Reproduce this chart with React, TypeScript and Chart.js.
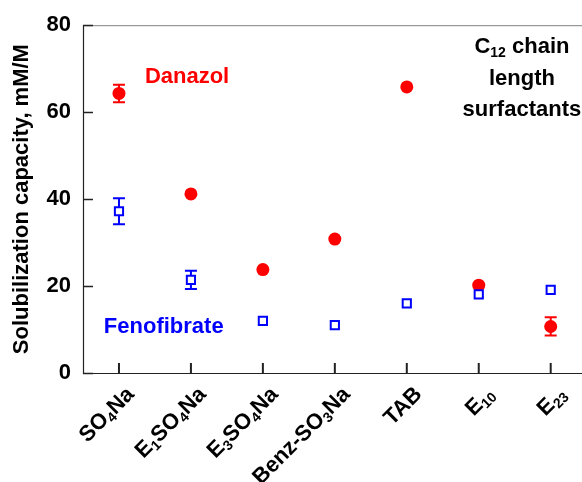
import React, { useEffect, useRef } from "react";
import { Chart, registerables } from "chart.js";
Chart.register(...registerables);

// Category labels: "_" toggles between normal and subscript segments
const categories = ["SO_4_Na", "E_1_SO_4_Na", "E_3_SO_4_Na", "Benz-SO_3_Na", "TAB", "E_10", "E_23"];
const danazol = [64.3, 41.2, 23.8, 30.8, 65.8, 20.2, 10.7];
const danazolErr = [2.0, 0, 0, 0, 0, 0, 2.1];
const fenofibrate = [37.2, 21.4, 12.0, 11.0, 16.0, 18.1, 19.1];
const fenofibrateErr = [3.0, 2.1, 0, 0, 0, 0, 0];
const yTicks = [0, 20, 40, 60, 80];
const yTitle = "Solubilization capacity, mM/M";
// annotation texts with their data-space anchors
const danazolLabel = { text: "Danazol", x: 0.36, y: 68.2 };
const fenoLabel = { text: "Fenofibrate", x: -0.21, y: 10.7 };
const noteLines = ["C_12_ chain", "length", "surfactants"];
const noteX = 5.6;
const noteY = [75, 67.7, 60.5];

const FONT = "'Liberation Sans', Arial, sans-serif";

function drawRich(ctx: CanvasRenderingContext2D, text: string, x: number, y: number, align: string, size: number, subSize: number, subShift: number) {
  const parts = text.split("_");
  const widths = parts.map((p, i) => {
    ctx.font = `bold ${i % 2 ? subSize : size}px ${FONT}`;
    return ctx.measureText(p).width;
  });
  const total = widths.reduce((a, b) => a + b, 0);
  let cx = align === "right" ? x - total : align === "center" ? x - total / 2 : x;
  ctx.textAlign = "left";
  ctx.textBaseline = "middle";
  parts.forEach((p, i) => {
    ctx.font = `bold ${i % 2 ? subSize : size}px ${FONT}`;
    ctx.fillText(p, cx, y + (i % 2 ? subShift : 0));
    cx += widths[i];
  });
}

const decor = {
  id: "decor",
  beforeDatasetsDraw(chart: any) {
    const ctx = chart.ctx;
    const xs = chart.scales.x;
    const ys = chart.scales.y;
    const series = [
      { v: danazol, e: danazolErr, c: "#ff0000" },
      { v: fenofibrate, e: fenofibrateErr, c: "#0000ff" },
    ];
    ctx.save();
    series.forEach((s) => {
      ctx.strokeStyle = s.c;
      ctx.lineWidth = 2;
      s.v.forEach((v, i) => {
        if (!s.e[i]) return;
        const px = xs.getPixelForValue(i);
        const top = ys.getPixelForValue(v + s.e[i]);
        const bot = ys.getPixelForValue(v - s.e[i]);
        ctx.beginPath();
        ctx.moveTo(px, top);
        ctx.lineTo(px, bot);
        ctx.moveTo(px - 6, top);
        ctx.lineTo(px + 6, top);
        ctx.moveTo(px - 6, bot);
        ctx.lineTo(px + 6, bot);
        ctx.stroke();
      });
    });
    ctx.restore();
  },
  afterDraw(chart: any) {
    const ctx = chart.ctx;
    const { left, right, top, bottom } = chart.chartArea;
    const xs = chart.scales.x;
    const ys = chart.scales.y;
    ctx.save();
    // top frame line
    ctx.strokeStyle = "#808080";
    ctx.lineWidth = 1;
    ctx.beginPath();
    ctx.moveTo(left, top + 0.5);
    ctx.lineTo(right, top + 0.5);
    ctx.stroke();
    // axes
    ctx.strokeStyle = "#222";
    ctx.lineWidth = 1.2;
    ctx.beginPath();
    ctx.moveTo(left + 0.5, top);
    ctx.lineTo(left + 0.5, bottom + 0.5);
    ctx.lineTo(right, bottom + 0.5);
    ctx.stroke();
    // inward ticks
    ctx.lineWidth = 1.6;
    ctx.beginPath();
    yTicks.forEach((t) => {
      const py = Math.round(ys.getPixelForValue(t)) + 0.5;
      ctx.moveTo(left, py);
      ctx.lineTo(left + 10, py);
    });
    ctx.stroke();
    ctx.lineWidth = 2;
    ctx.beginPath();
    categories.forEach((_, i) => {
      const px = xs.getPixelForValue(i);
      ctx.moveTo(px, bottom);
      ctx.lineTo(px, bottom - 10);
    });
    ctx.stroke();
    // category labels, rotated
    ctx.fillStyle = "#000";
    categories.forEach((c, i) => {
      const px = xs.getPixelForValue(i);
      ctx.save();
      ctx.translate(px + 12, bottom + 18);
      ctx.rotate(-Math.PI / 4);
      drawRich(ctx, c, 0, 0, "right", 22, 14, 6);
      ctx.restore();
    });
    // annotations
    ctx.fillStyle = "#ff0000";
    drawRich(ctx, danazolLabel.text, xs.getPixelForValue(danazolLabel.x), ys.getPixelForValue(danazolLabel.y), "left", 22, 14, 6);
    ctx.fillStyle = "#0000ff";
    drawRich(ctx, fenoLabel.text, xs.getPixelForValue(fenoLabel.x), ys.getPixelForValue(fenoLabel.y), "left", 22, 14, 6);
    ctx.fillStyle = "#000";
    noteLines.forEach((l, i) => {
      drawRich(ctx, l, xs.getPixelForValue(noteX), ys.getPixelForValue(noteY[i]), "center", 22, 14, 6);
    });
    ctx.restore();
  },
};

export default function App() {
  const ref = useRef<HTMLCanvasElement>(null);
  useEffect(() => {
    if (!ref.current) return;
    Chart.defaults.font.family = FONT;
    const chart = new Chart(ref.current, {
      type: "scatter",
      data: {
        datasets: [
          {
            label: "Fenofibrate",
            data: fenofibrate.map((y, i) => ({ x: i, y })),
            pointStyle: "rect",
            pointRadius: 5.8,
            borderColor: "#0000ff",
            backgroundColor: "#ffffff",
            borderWidth: 2,
            order: 0,
          },
          {
            label: "Danazol",
            data: danazol.map((y, i) => ({ x: i, y })),
            pointStyle: "circle",
            pointRadius: 6.5,
            borderColor: "#ff0000",
            backgroundColor: "#ff0000",
            borderWidth: 0,
            order: 1,
          },
        ],
      },
      options: {
        animation: false,
        responsive: false,
        devicePixelRatio: 1,
        layout: { autoPadding: false, padding: { top: 21, left: 0, right: 0, bottom: 0 } },
        plugins: { legend: { display: false }, tooltip: { enabled: false } },
        scales: {
          x: {
            type: "linear",
            min: -0.5,
            max: 6.435,
            grid: { display: false, drawTicks: false },
            border: { display: false },
            ticks: { display: false },
            afterFit: (s: any) => {
              s.height = 109;
            },
          },
          y: {
            min: 0,
            max: 80,
            grid: { display: false, drawTicks: false },
            border: { display: false },
            ticks: {
              stepSize: 20,
              padding: 12,
              color: "#000",
              font: { size: 22, weight: "bold", family: FONT },
            },
            title: {
              display: true,
              text: yTitle,
              color: "#000",
              font: { size: 22, weight: "bold", family: FONT },
              padding: { top: 9, bottom: 0 },
            },
            afterFit: (s: any) => {
              s.width = 83;
            },
          },
        },
      },
      plugins: [decor],
    } as any);
    return () => chart.destroy();
  }, []);
  return (
    <div style={{ position: "fixed", left: 0, top: 0, width: 582, height: 482, background: "#fff" }}>
      <canvas ref={ref} width={582} height={482} />
    </div>
  );
}
